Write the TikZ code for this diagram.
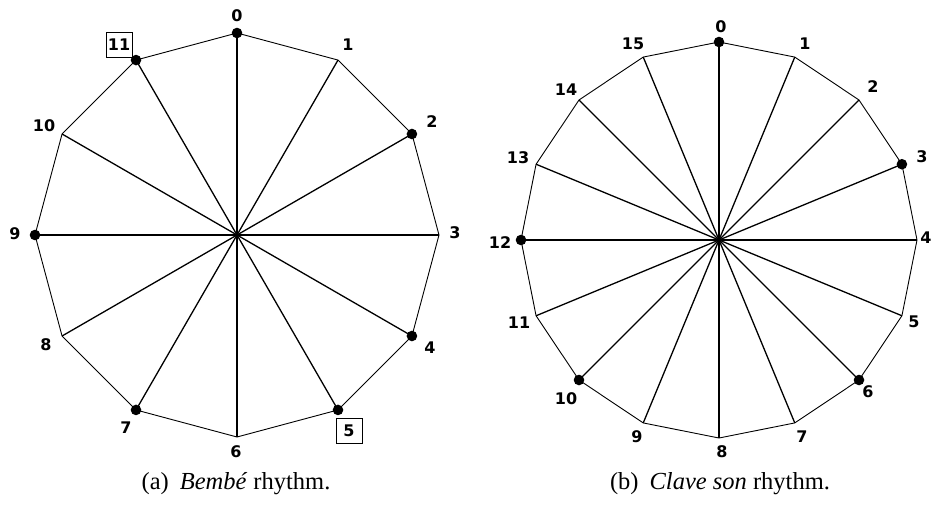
\documentclass[tikz,border=0pt]{standalone}
\usepackage{fontspec}
\setmainfont{Liberation Serif}
\newfontfamily\labfont{DejaVu Sans}
\usetikzlibrary{calc}
\tikzset{
  edge/.style={line width=0.9pt},
  spoke/.style={line width=1.3pt},
  beat/.style={circle,fill=black,inner sep=0pt,minimum size=10.6pt},
  num/.style={inner sep=0pt,font=\labfont\bfseries\fontsize{16}{16}\selectfont},
  boxnum/.style={num,draw,line width=0.8pt,minimum width=26pt,minimum height=25pt},
  captext/.style={inner sep=0pt,font=\fontsize{24.5}{24.5}\selectfont}
}
\begin{document}
\begin{tikzpicture}[x=1pt,y=-1pt]
\useasboundingbox (0,0) rectangle (934,506);
% ---- left: 12-gon ----
\coordinate (cl) at (237,235);
\foreach \k in {0,...,11}{
  \coordinate (L\k) at ($(cl)+({\k*30-90}:202)$);
}
\foreach \k in {0,...,11}{
  \pgfmathtruncatemacro{\n}{mod(\k+1,12)}
  \draw[edge] (L\k) -- (L\n);
  \draw[spoke] (cl) -- (L\k);
}
\foreach \k in {0,2,4,5,7,9,11}{
  \node[beat] (LB\k) at (L\k) {};
}
\node[num] (l0) at (237,16) {0};
\node[num] (l1) at (348,45) {1};
\node[num] (l2) at (432,122) {2};
\node[num] (l3) at (455,233) {3};
\node[num] (l4) at (430,348) {4};
\node[boxnum] (l5) at (349,431) {5};
\node[num] (l6) at (236,452) {6};
\node[num] (l7) at (126,428) {7};
\node[num] (l8) at (46,345) {8};
\node[num] (l9) at (15,234) {9};
\node[num] (l10) at (44,126) {10};
\node[boxnum] (l11) at (119,45) {11};
% ---- right: 16-gon ----
\coordinate (cr) at (719,240);
\foreach \k in {0,...,15}{
  \coordinate (R\k) at ($(cr)+({\k*22.5-90}:198)$);
}
\foreach \k in {0,...,15}{
  \pgfmathtruncatemacro{\n}{mod(\k+1,16)}
  \draw[edge] (R\k) -- (R\n);
  \draw[spoke] (cr) -- (R\k);
}
\foreach \k in {0,3,6,10,12}{
  \node[beat] (RB\k) at (R\k) {};
}
\node[num] (r0) at (721,27) {0};
\node[num] (r1) at (805,44) {1};
\node[num] (r2) at (873,87) {2};
\node[num] (r3) at (922,157) {3};
\node[num] (r4) at (926,238) {4};
\node[num] (r5) at (914,322) {5};
\node[num] (r6) at (868,392) {6};
\node[num] (r7) at (802,437) {7};
\node[num] (r8) at (722,452) {8};
\node[num] (r9) at (637,437) {9};
\node[num] (r10) at (566,399) {10};
\node[num] (r11) at (519,323) {11};
\node[num] (r12) at (500,243) {12};
\node[num] (r13) at (518,158) {13};
\node[num] (r14) at (566,90) {14};
\node[num] (r15) at (633,44) {15};
% ---- captions ----
\node[captext] (capa) at (236,484) {(a)\hspace{0.45em}\textit{Bemb\'e} rhythm.};
\node[captext] (capb) at (720,484) {(b)\hspace{0.45em}\textit{Clave son} rhythm.};
\end{tikzpicture}
\end{document}
